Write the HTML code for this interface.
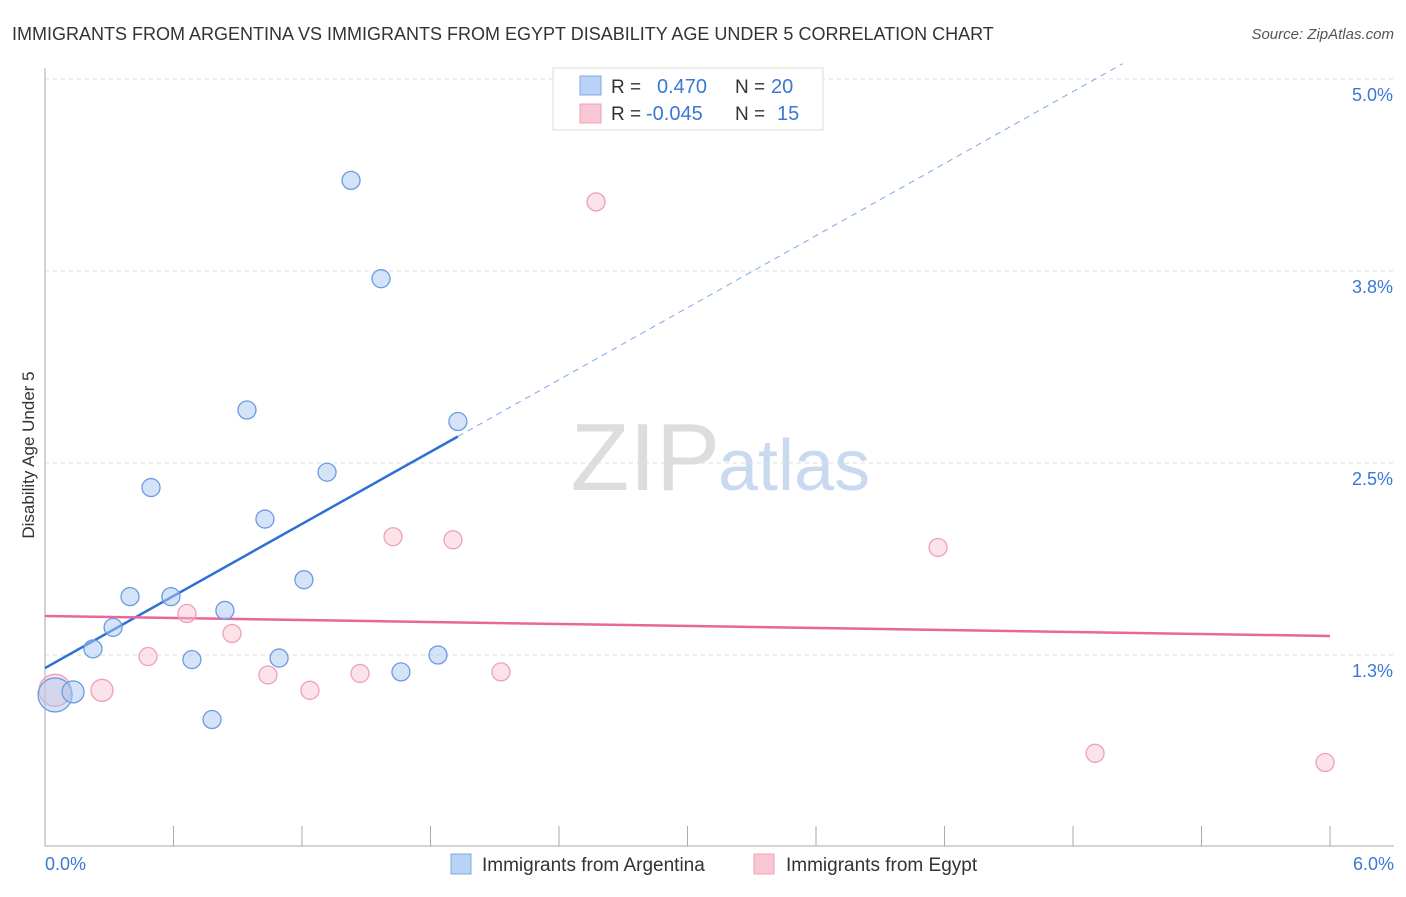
<!DOCTYPE html>
<html><head><meta charset="utf-8"><style>
body{margin:0;background:#fff;font-family:"Liberation Sans",sans-serif;}
svg text{font-family:"Liberation Sans",sans-serif;}
</style></head><body>
<svg id="c" width="1406" height="892" xmlns="http://www.w3.org/2000/svg">
<text x="12" y="40" font-size="18" fill="#333">IMMIGRANTS FROM ARGENTINA VS IMMIGRANTS FROM EGYPT DISABILITY AGE UNDER 5 CORRELATION CHART</text>
<text x="1394" y="39" font-size="15" fill="#555" text-anchor="end" font-style="italic">Source: ZipAtlas.com</text>
<text x="720" y="490" font-size="96" fill="#ddd" text-anchor="end" font-family="Liberation Serif">ZIP</text>
<text x="718" y="490" font-size="72" fill="#c9daf0">atlas</text>
<g id="grid"></g>
<line x1="45" y1="68" x2="45" y2="846" stroke="#aaa"/>
<line x1="45" y1="846" x2="1394" y2="846" stroke="#aaa"/>
<text x="34" y="455" font-size="17" fill="#333" text-anchor="middle" transform="rotate(-90 34 455)">Disability Age Under 5</text>
<text x="45" y="870" font-size="18" fill="#3a78d4">0.0%</text>
<text x="1394" y="870" font-size="18" fill="#3a78d4" text-anchor="end">6.0%</text>
<g id="lines"></g>
<g id="pts"></g>
<g>
<rect x="553" y="68" width="270" height="62" fill="#fff" stroke="#ddd"/>
<rect x="580" y="76" width="21" height="19" fill="#b8d3f5" stroke="#7ea8e4"/>
<rect x="580" y="104" width="21" height="19" fill="#f9c6d4" stroke="#eea0b7"/>
<text x="611" y="93" font-size="19" fill="#333">R =</text><text x="657" y="93" font-size="20" fill="#3a78d4">0.470</text>
<text x="735" y="93" font-size="19" fill="#333">N =</text><text x="771" y="93" font-size="20" fill="#3a78d4">20</text>
<text x="611" y="120" font-size="19" fill="#333">R =</text><text x="646" y="120" font-size="20" fill="#3a78d4">-0.045</text>
<text x="735" y="120" font-size="19" fill="#333">N =</text><text x="777" y="120" font-size="20" fill="#3a78d4">15</text>
</g>
<g>
<rect x="451" y="854" width="20" height="20" fill="#b8d3f5" stroke="#7ea8e4"/>
<text x="482" y="871" font-size="19" fill="#333">Immigrants from Argentina</text>
<rect x="754" y="854" width="20" height="20" fill="#f9c6d4" stroke="#eea0b7"/>
<text x="786" y="871" font-size="19" fill="#333">Immigrants from Egypt</text>
</g>
</svg>
<script>
const yTicks=[1.25,2.5,3.75,5.0];
const yTickLabels=["1.3%","2.5%","3.8%","5.0%"];
const xTicks=[0,0.6,1.2,1.8,2.4,3.0,3.6,4.2,4.8,5.4,6.0];
const blueX=[0.047,0.131,0.224,0.318,0.397,0.495,0.588,0.686,0.780,0.840,0.943,1.027,1.093,1.209,1.317,1.429,1.569,1.662,1.835,1.928];
const blueY=[0.99,1.01,1.29,1.43,1.63,2.34,1.63,1.22,0.83,1.54,2.845,2.135,1.23,1.74,2.44,4.34,3.70,1.14,1.25,2.77];
const blueR=[17,11,9,9,9,9,9,9,9,9,9,9,9,9,9,9,9,9,9,9];
const pinkX=[0.047,0.266,0.481,0.663,0.873,1.041,1.237,1.471,1.625,1.905,2.129,2.573,4.170,4.903,5.977];
const pinkY=[1.02,1.02,1.24,1.52,1.39,1.12,1.02,1.13,2.02,2.00,1.14,4.20,1.95,0.61,0.55];
const pinkR=[16,11,9,9,9,9,9,9,9,9,9,9,9,9,9];
const blueTrend=[1.165,0.782];
const pinkTrend=[1.504,-0.0217];
const NS="http://www.w3.org/2000/svg";
const X=v=>45+v/6*1285, Y=v=>655-(v-1.25)*153.6;
function mk(t,a,p){const e=document.createElementNS(NS,t);for(const k in a)e.setAttribute(k,a[k]);document.getElementById(p).appendChild(e);return e;}
yTicks.forEach((v,i)=>{
 const g=mk('line',{x1:45,x2:1394,y1:Y(v),y2:Y(v),stroke:'#ddd','stroke-dasharray':'4,4'},'grid');
 
 
 const t=mk('text',{x:1393,y:Y(v)+22,'font-size':18,fill:'#3a78d4','text-anchor':'end'},'grid');t.textContent=yTickLabels[i];
 
 
});
xTicks.forEach(v=>{
 const l=mk('line',{x1:X(v),x2:X(v),y1:826,y2:846,stroke:'#aaa'},'grid');
 
 
});
// trend lines
const bx1=Math.max(...blueX);
let l=mk('line',{x1:X(0),y1:Y(blueTrend[0]),x2:X(bx1),y2:Y(blueTrend[0]+blueTrend[1]*bx1),stroke:'#2f6fd6','stroke-width':2.5},'lines');


const xTop=(5.1-blueTrend[0])/blueTrend[1];
l=mk('line',{x1:X(bx1),y1:Y(blueTrend[0]+blueTrend[1]*bx1),x2:X(xTop),y2:Y(5.1),stroke:'#7ea8e4','stroke-width':1,'stroke-dasharray':'6,5'},'lines');


l=mk('line',{x1:X(0),y1:Y(pinkTrend[0]),x2:X(6),y2:Y(pinkTrend[0]+pinkTrend[1]*6),stroke:'#e8679a','stroke-width':2.5},'lines');


pinkX.forEach((x,i)=>{
 const c=mk('circle',{cx:X(x),cy:Y(pinkY[i]),r:pinkR[i],fill:'rgba(248,190,207,0.45)',stroke:'#eea0b7','stroke-width':1.3},'pts');
 
 
});
blueX.forEach((x,i)=>{
 const c=mk('circle',{cx:X(x),cy:Y(blueY[i]),r:blueR[i],fill:'rgba(170,200,240,0.5)',stroke:'#6b9be0','stroke-width':1.3},'pts');
 
 
});
</script>
</body></html>
